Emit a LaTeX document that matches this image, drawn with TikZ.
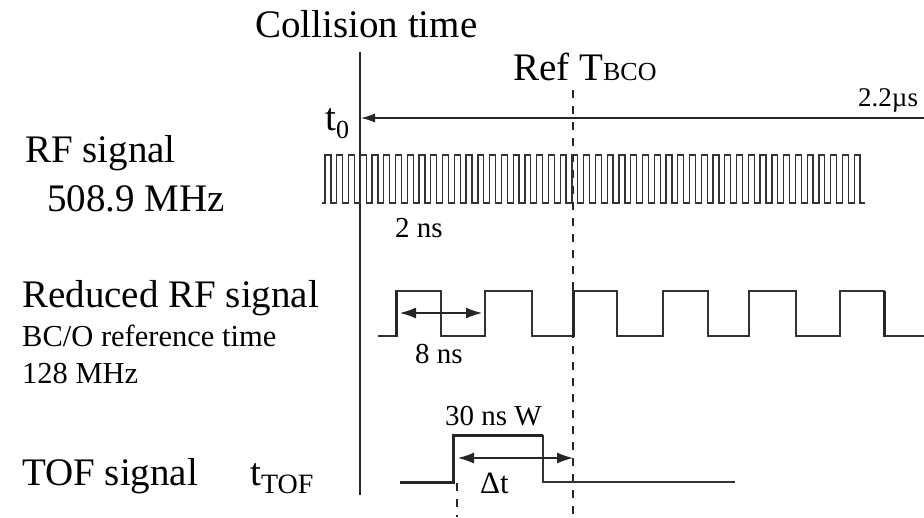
\documentclass[tikz,border=0pt]{standalone}
\usepackage{fontspec}
\setmainfont{Liberation Serif}
\usetikzlibrary{arrows.meta}
\begin{document}
\begin{tikzpicture}[x=1pt,y=-1pt,
  lbl/.style={anchor=base west, inner sep=0pt, font=\fontsize{39}{44}\selectfont},
  sml/.style={anchor=base west, inner sep=0pt, font=\fontsize{29}{33}\selectfont},
  wave/.style={line width=1.3pt, draw=black!80, line join=miter},
  heavy/.style={line width=3pt, draw=black!85, line join=miter},
  vline/.style={line width=1.3pt, draw=black!85},
  dline/.style={line width=1.3pt, draw=black!85, dash pattern=on 8pt off 8pt},
  dim/.style={line width=1.2pt, draw=black!85, fill=black!85, {Latex[length=16pt,width=11pt]}-{Latex[length=16pt,width=11pt]}},
  tarrow/.style={line width=1.3pt, draw=black!85, fill=black!85, -{Latex[length=14pt,width=9pt]}}
]
\useasboundingbox (0,0) rectangle (924,517);
\clip (0,0) rectangle (924,517);
\fill[white] (0,0) rectangle (924,517);

% texts
\node[lbl] (coll) at (255,37) {Collision time};
\node[lbl] (ref) at (513,80) {Ref T{\fontsize{26}{30}\selectfont BCO}};
\node[anchor=base west, inner sep=0pt, font=\fontsize{27}{30}\selectfont] (dur) at (858,106) {2.2µs};
\node[lbl] (tzero) at (325,130) {t{\fontsize{26}{30}\selectfont\raisebox{-8pt}{0}}};
\node[lbl] (rf) at (25,162) {RF signal};
\node[lbl] (rff) at (47,211) {508.9 MHz};
\node[lbl] (red) at (22,307) {Reduced RF signal};
\node[anchor=base west, inner sep=0pt, font=\fontsize{30.5}{34}\selectfont] (bco) at (22,346) {BC/O reference time};
\node[anchor=base west, inner sep=0pt, font=\fontsize{30.5}{34}\selectfont] (mhz) at (22,383) {128 MHz};
\node[lbl] (tof) at (22,485) {TOF signal};
\node[lbl] (ttof) at (250,485) {t{\fontsize{28}{30}\selectfont\raisebox{-8pt}{TOF}}};
\node[sml] (twons) at (395,237) {2 ns};
\node[sml] (eightns) at (415,363) {8 ns};
\node[sml] (thirty) at (445,425) {30 ns W};
\node[anchor=base west, inner sep=0pt, font=\fontsize{31}{34}\selectfont] (dt) at (480,493) {Δt};

% vertical reference lines
\coordinate (collTop) at (360,52);
\coordinate (collBot) at (360,495);
\draw[vline] (collTop) -- (collBot);
\coordinate (refTop) at (573,90);
\coordinate (refBot) at (573,517);
\draw[dline] (refTop) -- (refBot);
\coordinate (tofTop) at (457,483);
\coordinate (tofBot) at (457,517);
\draw[dline] (tofTop) -- (tofBot);

% 2.2 us arrow to t0
\coordinate (arrR) at (930,118);
\coordinate (arrL) at (361,118);
\draw[tarrow] (arrR) -- (arrL);

% RF signal waveform
\draw[line width=1.3pt, draw=black!80, line join=miter] (322,203)
  foreach \k in {0,...,45} {
    -- ({325+\k*11.76},203) -- ({325+\k*11.76},155)
    -- ({325+\k*11.76+5.88},155) -- ({325+\k*11.76+5.88},203)
  } -- (865,203);

% Reduced RF waveform
\draw[wave] (378,336) -- (396,336) -- (396,291) -- (441,291) -- (441,336)
  -- (485,336) -- (485,291) -- (532,291) -- (532,336)
  -- (573,336) -- (573,291) -- (617,291) -- (617,336)
  -- (663,336) -- (663,291) -- (708,291) -- (708,336)
  -- (749,336) -- (749,291) -- (796,291) -- (796,336)
  -- (840,336) -- (840,291) -- (884,291) -- (884,336) -- (930,336);
\draw[heavy] (396,337) -- (396,291);
\draw[heavy] (573,337) -- (573,291);
\draw[heavy] (884,291) -- (884,337);

% 8 ns dimension
\coordinate (e1) at (400,313);
\coordinate (e2) at (482,313);
\draw[dim] (e1) -- (e2);

% TOF waveform
\draw[heavy] (400,482) -- (453,482) -- (453,435) -- (543,435);
\draw[wave] (543,435) -- (543,482) -- (735,482);

% delta t dimension
\coordinate (d1) at (458,458);
\coordinate (d2) at (573,458);
\draw[dim] (d1) -- (d2);
\end{tikzpicture}
\end{document}
